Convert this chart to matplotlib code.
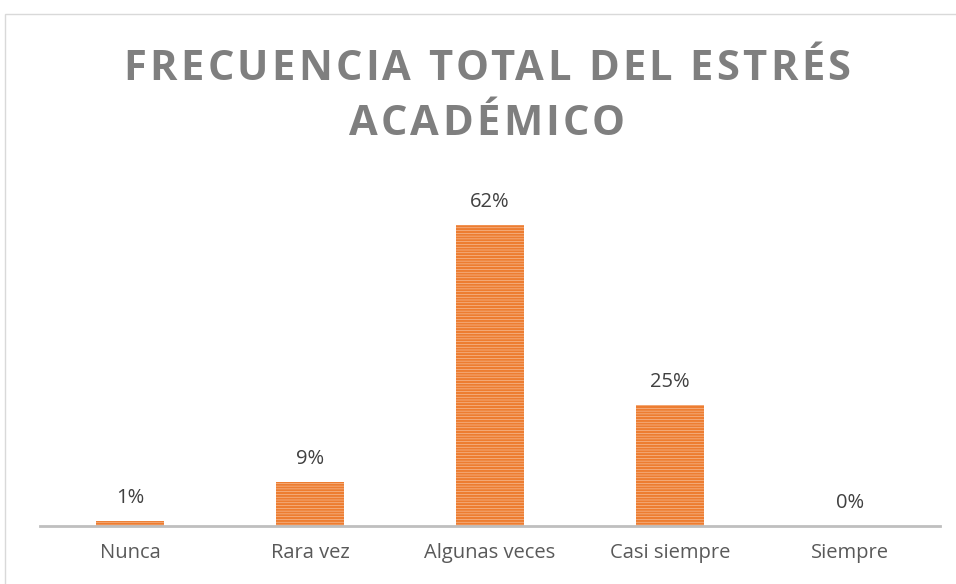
import matplotlib
matplotlib.use('Agg')
import matplotlib.pyplot as plt
from matplotlib.patches import Rectangle

# data
categories = ['Nunca', 'Rara vez', 'Algunas veces', 'Casi siempre', 'Siempre']
values = [1, 9, 62, 25, 0]
labels = ['1%', '9%', '62%', '25%', '0%']
title_lines = ['FRECUENCIA TOTAL DEL ESTRÉS', 'ACADÉMICO']

plt.rcParams['hatch.linewidth'] = 1.6
plt.rcParams['hatch.color'] = '#ED7D31'

W, H = 956, 584
fig = plt.figure(figsize=(W/100, H/100), dpi=100)
ax = fig.add_axes([40/W, 1-526/H, 900/W, (526-190)/H])

x = range(len(categories))
ax.bar(x, values, width=0.38, color='#F8CBAD', edgecolor='#ED7D31',
       linewidth=0, hatch='------')

for xi, v, lab in zip(x, values, labels):
    ax.annotate(lab, xy=(xi, v), xytext=(0, 13), textcoords='offset points',
                ha='center', va='baseline', fontsize=14.5, color='#404040',
                family='Open Sans')

ax.set_xlim(-0.5, len(categories) - 0.5)
ax.set_ylim(0, 69.3)
ax.set_xticks(list(x))
ax.set_xticklabels(categories, fontsize=14.5, color='#595959', family='Open Sans')
ax.tick_params(axis='x', length=0, pad=12)
ax.set_yticks([])
for s in ['top', 'right', 'left']:
    ax.spines[s].set_visible(False)
ax.spines['bottom'].set_color('#BFBFBF')
ax.spines['bottom'].set_linewidth(2)

# title with letter spacing, one character at a time
renderer = fig.canvas.get_renderer()
tprops = dict(fontsize=30, fontweight='bold', color='#7F7F7F', family='Open Sans')

def ink_width(s):
    t = fig.text(0, 0, s, **tprops)
    w = t.get_window_extent(renderer).width
    t.remove()
    return w

def spaced_title(text, cx, baseline, spacing):
    total = ink_width(text) + spacing * (len(text) - 1)
    x0 = cx - total / 2
    for i, c in enumerate(text):
        if c == ' ':
            continue
        xi = x0 + ink_width(text[:i + 1]) - ink_width(c) + i * spacing
        fig.text(xi / W, 1 - baseline / H, c, ha='left', va='baseline', **tprops)

spaced_title(title_lines[0], 487, 80, 3.3)
spaced_title(title_lines[1], 487, 135, 3.3)

# chart border
fig.patches.append(Rectangle((5/W, -0.05), 1.1, 1-14/H+0.05,
                             transform=fig.transFigure, fill=False,
                             edgecolor='#D9D9D9', linewidth=1))

plt.savefig('out.png', dpi=100)
